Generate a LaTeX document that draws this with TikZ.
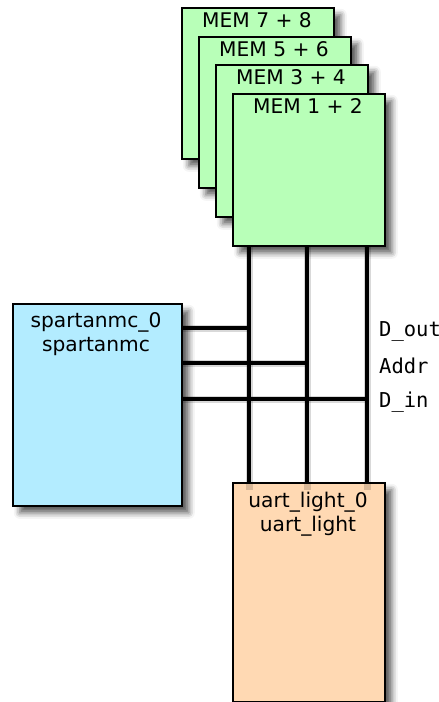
\documentclass[tikz,border=0pt]{standalone}
\usepackage{fontspec}
\setmainfont{DejaVu Sans}
\newfontfamily\labmono{DejaVu Sans Mono}
\usetikzlibrary{shadows.blur}
\definecolor{memgreen}{HTML}{B8FFB8}
\definecolor{cpublue}{HTML}{B3ECFF}
\definecolor{uartorange}{HTML}{FFD9B3}
\tikzset{
  box/.style={draw=black, line width=1.6pt, anchor=north west, inner sep=0pt,
    blur shadow={shadow xshift=7pt, shadow yshift=-7pt, shadow blur radius=6pt, shadow opacity=65}},
  boxtext/.style={font=\fontsize{20.2}{24}\selectfont, inner sep=0pt, anchor=center},
  bus/.style={line width=3.6pt, black},
  busshadow/.style={line width=7pt, black, opacity=0.15},
  sig/.style={font=\labmono\fontsize{20.5}{24}\selectfont, anchor=west, inner sep=0pt}
}
\begin{document}
\begin{tikzpicture}[x=1pt,y=-1pt]
\useasboundingbox (0,0) rectangle (439,702);
% memory stack
\node[box, fill=memgreen, minimum width=152pt, minimum height=151pt] (m78) at (181,7) {};
\node[boxtext] (t78) at (257,20) {MEM 7 + 8};
\node[box, fill=memgreen, minimum width=152pt, minimum height=151pt] (m56) at (198,36) {};
\node[boxtext] (t56) at (274,49) {MEM 5 + 6};
\node[box, fill=memgreen, minimum width=152pt, minimum height=152pt] (m34) at (215,64) {};
\node[boxtext] (t34) at (291,77) {MEM 3 + 4};
\node[box, fill=memgreen, minimum width=152pt, minimum height=152pt] (m12) at (232,93) {};
\node[boxtext] (t12) at (308,106) {MEM 1 + 2};
% cpu
\node[box, fill=cpublue, minimum width=169pt, minimum height=202pt] (sp) at (12,303) {};
\node[boxtext] (tsp1) at (96,322) {spartanmc\_0};
\node[boxtext] (tsp2) at (96,347) {spartanmc};
% uart
\node[box, fill=uartorange, minimum width=152pt, minimum height=219pt] (ua) at (232,482) {};
\node[boxtext] (tua1) at (308,502) {uart\_light\_0};
\node[boxtext] (tua2) at (308,526) {uart\_light};
% bus coordinates
\coordinate (v1) at (249,0);
\coordinate (v2) at (307,0);
\coordinate (v3) at (367,0);
\coordinate (h1) at (0,328);
\coordinate (h2) at (0,363);
\coordinate (h3) at (0,399);
% shadows of bus lines
\begin{scope}[shift={(5,5)}]
\foreach \v in {v1,v2,v3}{\draw[busshadow] (m12.south -| \v) -- ([yshift=-8pt]ua.north -| \v);}
\draw[busshadow] (sp.east |- h1) -- (h1 -| v1);
\draw[busshadow] (sp.east |- h2) -- (h2 -| v2);
\draw[busshadow] (sp.east |- h3) -- (h3 -| v3);
\end{scope}
% bus lines
\draw[bus] (m12.south -| v1) -- (ua.north -| v1);
\draw[bus] (m12.south -| v2) -- (ua.north -| v2);
\draw[bus] (m12.south -| v3) -- (ua.north -| v3);
\draw[bus] (sp.east |- h1) -- (h1 -| v1);
\draw[bus] (sp.east |- h2) -- (h2 -| v2);
\draw[bus] (sp.east |- h3) -- (h3 -| v3);
% signal labels
\node[sig] (ldout) at (379,331) {D\_out};
\node[sig] (laddr) at (379,366) {Addr};
\node[sig] (ldin) at (379,402) {D\_in};
\end{tikzpicture}
\end{document}
